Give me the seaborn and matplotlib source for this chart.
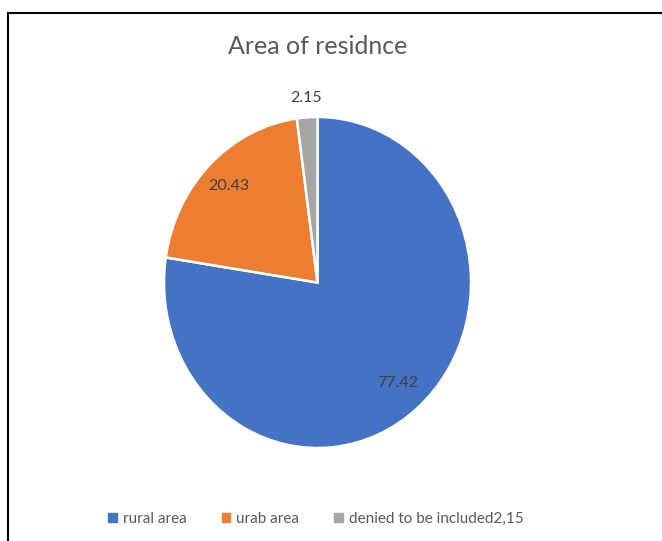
import numpy as np
import matplotlib
matplotlib.use("Agg")
import matplotlib.pyplot as plt
from matplotlib.patches import Patch, Rectangle
import seaborn as sns

# ---- data ----
categories = ["rural area", "urab area", "denied to be included2,15"]
values = [77.42, 20.43, 2.15]
value_labels = ["77.42", "20.43", "2.15"]
title = "Area of residnce"

# ---- style ----
sns.set_theme(style="white")
plt.rcParams["font.family"] = ["Lato", "DejaVu Sans"]
colors = ["#4472C4", "#ED7D31", "#A5A5A5"]
label_dist = [0.80, 0.82, 1.12]

fig = plt.figure(figsize=(6.62, 5.41), dpi=100)
fig.patch.set_facecolor("white")

W, H = 662, 541
left, right, top, bottom = 164, 471, 117, 448
ax = fig.add_axes([left / W, 1 - bottom / H, (right - left) / W, (bottom - top) / H])

wedges, _ = ax.pie(values, colors=colors, startangle=90, counterclock=False,
                   wedgeprops=dict(edgecolor="white", linewidth=1.8))
ax.set_aspect("auto")
ax.set_xlim(-1, 1)
ax.set_ylim(-1, 1)
ax.axis("off")

for w, lab, d in zip(wedges, value_labels, label_dist):
    ang = np.deg2rad((w.theta1 + w.theta2) / 2)
    ax.text(d * np.cos(ang), d * np.sin(ang), lab, ha="center", va="center",
            fontsize=11.5, color="#404040")

fig.text(318 / W, 1 - 46 / H, title, ha="center", va="center",
         fontsize=18, color="#595959")

handles = [Patch(facecolor=c, edgecolor=c) for c in colors]
fig.legend(handles, categories, loc="center", bbox_to_anchor=(316 / W, 1 - 519 / H),
           ncol=3, frameon=False, fontsize=11, handlelength=0.55, handleheight=0.55,
           handletextpad=0.4, columnspacing=2.3, labelcolor="#595959")

# outer frame
fig.add_artist(Rectangle((8 / W, -0.02), 1.05, 1 - 13 / H + 0.02, transform=fig.transFigure,
                         fill=False, edgecolor="black", linewidth=1.5, clip_on=False))

fig.savefig("out.png", dpi=100, facecolor="white")
